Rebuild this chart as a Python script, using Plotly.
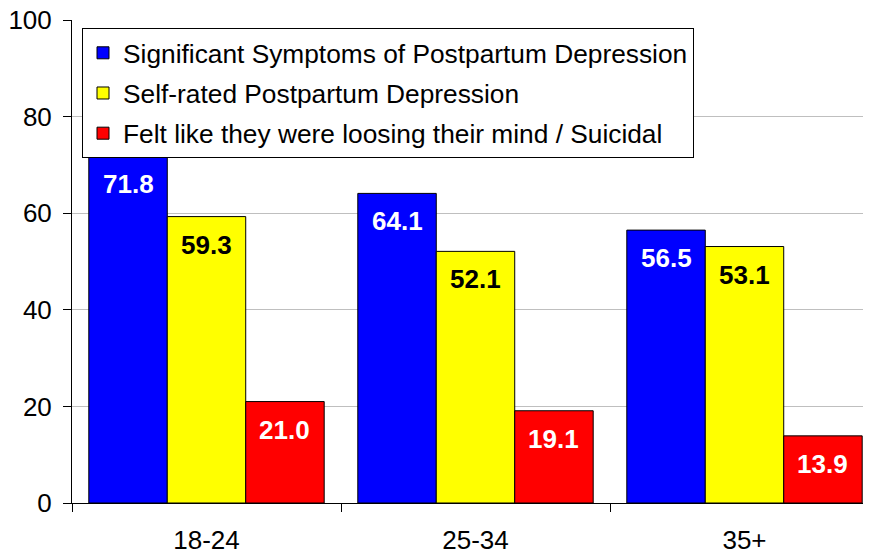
import plotly.graph_objects as go

categories = ["18-24", "25-34", "35+"]
series_names = [
    "Significant Symptoms of Postpartum Depression",
    "Self-rated Postpartum Depression",
    "Felt like they were loosing their mind / Suicidal",
]
sig_symptoms = [71.8, 64.1, 56.5]
self_rated = [59.3, 52.1, 53.1]
suicidal = [21.0, 19.1, 13.9]
y_ticks = [0, 20, 40, 60, 80, 100]

colors = ["#0000FF", "#FFFF00", "#FF0000"]
text_colors = ["white", "black", "white"]
values = [sig_symptoms, self_rated, suicidal]

BARGAP = 0.125
FONT = "Liberation Sans, Arial"

fig = go.Figure()
annotations = []
n = len(values)
bar_w = (1 - BARGAP) / n
for i, (name, vals, col, tcol) in enumerate(zip(series_names, values, colors, text_colors)):
    fig.add_trace(go.Bar(
        x=categories, y=vals, name=name, legendgroup=f"g{i}",
        marker=dict(color=col, line=dict(color="black", width=1)),
    ))
    for j, v in enumerate(vals):
        annotations.append(dict(
            x=j + (i - (n - 1) / 2) * bar_w, y=v, xref="x", yref="y",
            text=f"<b>{v:.1f}</b>", showarrow=False,
            yanchor="middle", yshift=-28,
            font=dict(family=FONT, size=26, color=tcol),
        ))

fig.update_layout(
    width=871, height=556,
    margin=dict(l=64, r=0, t=12, b=61, autoexpand=False),
    plot_bgcolor="white", paper_bgcolor="white",
    barmode="group", bargap=BARGAP, bargroupgap=0,
    font=dict(family=FONT, size=26, color="black"),
    showlegend=True,
    legend=dict(
        x=0.0124, y=0.983, xanchor="left", yanchor="top",
        bgcolor="white", bordercolor="black", borderwidth=1,
        font=dict(size=26.3), tracegroupgap=3,
    ),
    annotations=annotations,
)
fig.update_xaxes(
    range=[-0.5, 2.5], showline=True, linecolor="black", linewidth=1,
    ticks="outside", ticklen=8, tickcolor="black", tickson="boundaries",
    ticklabelstandoff=14, automargin=False,
    showgrid=False, tickfont=dict(size=26), fixedrange=True,
)
fig.update_yaxes(
    range=[0, 100], tickvals=y_ticks, showline=True, linecolor="black", linewidth=1,
    ticks="outside", ticklen=8, tickcolor="black", ticklabelstandoff=6,
    ticklabeloverflow="allow", automargin=False,
    showgrid=True, gridcolor="#BFBFBF", gridwidth=1, zeroline=False,
    tickfont=dict(size=26),
)
fig.write_html("out.html")
